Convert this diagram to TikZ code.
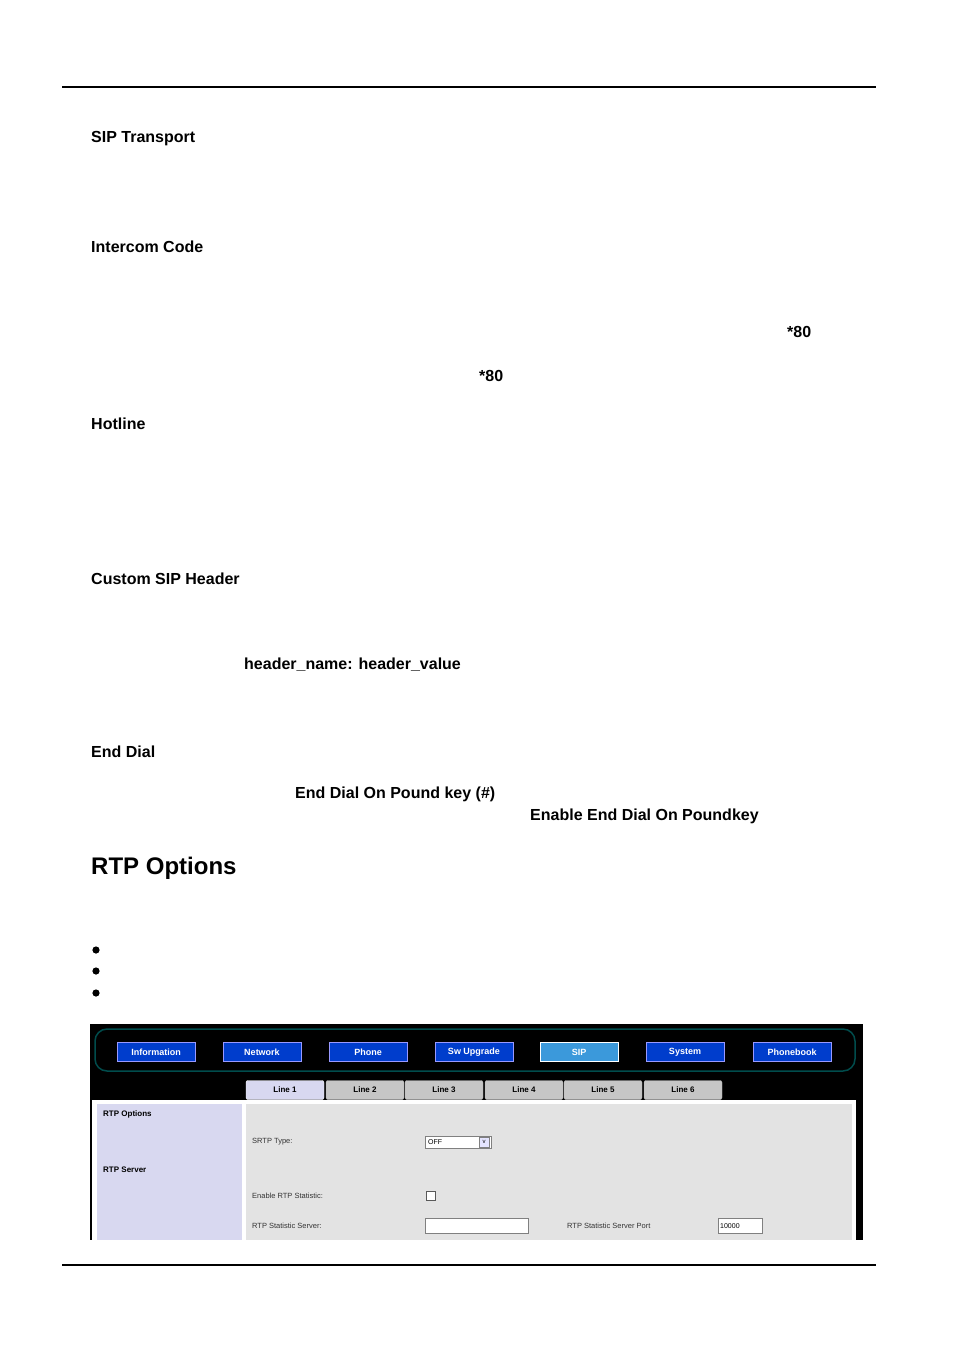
\documentclass[tikz,border=0pt]{standalone}
\usepackage{fontspec}
\setmainfont{Liberation Sans}
\begin{document}
\begin{tikzpicture}[x=1pt,y=-1pt,
 head/.style={anchor=base west,font=\fontsize{16}{18}\selectfont\bfseries,inner sep=0},
 nav/.style={draw=blue!40!white,fill=blue!70!cyan!80!black,text=white,font=\fontsize{9}{10}\selectfont\bfseries,minimum width=78pt,minimum height=19pt,inner sep=0},
 tab/.style={draw=gray!60,fill=gray!45,font=\fontsize{8}{9}\selectfont\bfseries,minimum width=78pt,minimum height=19pt,inner sep=0,rounded corners=2pt},
 lab/.style={anchor=west,font=\fontsize{7.5}{9}\selectfont,text=black!80,inner sep=0},
 side/.style={anchor=west,font=\fontsize{8}{9}\selectfont\bfseries,inner sep=0}]
\useasboundingbox (0,0) rectangle (954,1350);
\fill[white] (0,0) rectangle (954,1350);
\draw[line width=1.3pt] (62,87) coordinate (t1) -- (876,87) coordinate (t2);
\node[head] (h1) at (91,142) {SIP Transport};
\node[head] (h2) at (91,252) {Intercom Code};
\node[head] (h3) at (787,337) {*80};
\node[head] (h4) at (479,381) {*80};
\node[head] (h5) at (91,429) {Hotline};
\node[head] (h6) at (91,584) {Custom SIP Header};
\node[head] (h7) at (244,669) {header\_name: header\_value};
\node[head] (h8) at (91,757) {End Dial};
\node[head] (h9) at (295,798) {End Dial On Pound key (\#)};
\node[head] (h10) at (530,820) {Enable End Dial On Poundkey};
\node[head,font=\fontsize{24}{26}\selectfont\bfseries] (h11) at (91,874) {RTP Options};
\foreach \y/\n in {950/b1,971/b2,993/b3} \fill (96,\y) circle (3.6pt);
% screenshot
\fill[black] (90,1024) rectangle (863,1240);
\draw[draw=teal!60!black,line width=1.5pt,rounded corners=12pt] (95,1029) rectangle (855,1071);
\foreach \x/\t/\n in {156/Information/n1,262/Network/n2,368/Phone/n3,474/Sw Upgrade/n4,685/System/n6,792/Phonebook/n7}
  \node[nav] (\n) at (\x,1052) {\t};
\node[nav,fill=cyan!70!blue!80,draw=white] (n5) at (579,1052) {SIP};
\fill[white] (92,1100) rectangle (856,1240);
\fill[cyan!25!blue!15] (97,1104) rectangle (242,1240);
\fill[gray!22] (246,1104) rectangle (852,1240);
\foreach \x/\t/\n in {365/Line 2/l2,444/Line 3/l3,524/Line 4/l4,603/Line 5/l5,683/Line 6/l6}
  \node[tab] (\n) at (\x,1090) {\t};
\node[tab,fill=cyan!25!blue!15,draw=white] (l1) at (285,1090) {Line 1};
\node[side] (s1) at (103,1114) {RTP Options};
\node[side] (s2) at (103,1170) {RTP Server};
\node[lab] (f1) at (252,1142) {SRTP Type:};
\node[lab] (f2) at (252,1196) {Enable RTP Statistic:};
\node[lab] (f3) at (252,1226) {RTP Statistic Server:};
\node[lab] (f4) at (567,1226) {RTP Statistic Server Port};
\node[draw=gray,fill=white,minimum width=66pt,minimum height=12pt,inner sep=1pt,anchor=west,font=\fontsize{7}{8}\selectfont,align=left,text width=60pt] (c1) at (425,1142) {OFF};
\node[draw=gray,fill=blue!10,minimum width=10pt,minimum height=10pt,inner sep=0,font=\fontsize{6}{6}\selectfont] (c1a) at (484,1142) {v};
\node[draw=gray!70!black,fill=white,minimum size=9pt,inner sep=0] (c2) at (431,1196) {};
\node[draw=gray,fill=white,minimum width=103pt,minimum height=15pt,anchor=west,inner sep=0] (c3) at (425,1226) {};
\node[draw=gray,fill=white,minimum width=44pt,minimum height=15pt,anchor=west,inner sep=1pt,font=\fontsize{7}{8}\selectfont,text width=40pt,align=left] (c4) at (718,1226) {10000};
\draw[line width=1.3pt] (62,1265) coordinate (b1) -- (876,1265) coordinate (b2);
\end{tikzpicture}
\end{document}
